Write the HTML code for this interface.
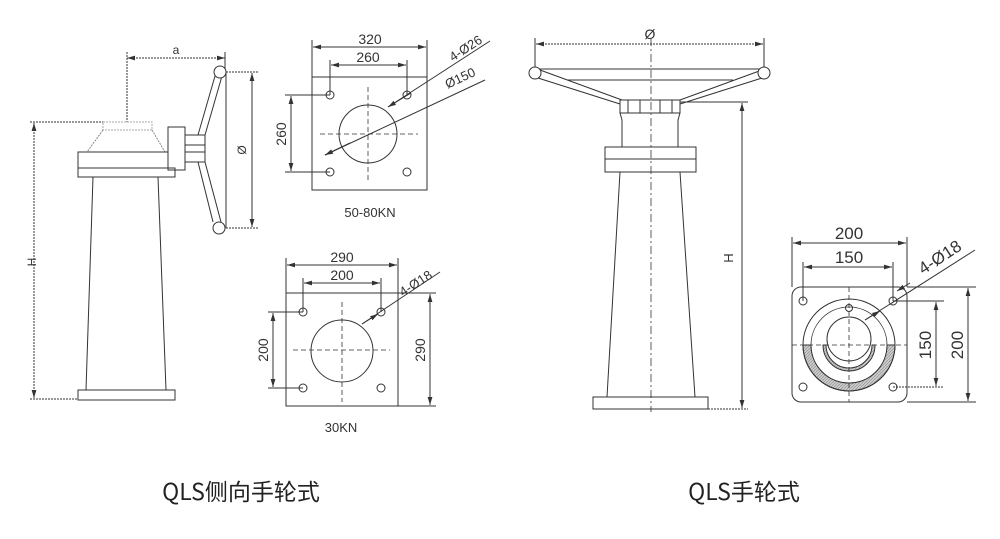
<!DOCTYPE html>
<html><head><meta charset="utf-8"><style>
html,body{margin:0;padding:0;background:#fff;}
svg{display:block;}
text{font-family:"Liberation Sans","Noto Sans CJK SC",sans-serif;fill:#333;}
.cap{font-family:"Noto Sans CJK SC","Liberation Sans",sans-serif;fill:#222;}
</style></head><body>
<svg width="1000" height="539" viewBox="0 0 1000 539" xmlns="http://www.w3.org/2000/svg">
<defs>
<marker id="a" viewBox="0 0 10 6" refX="10" refY="3" markerWidth="8" markerHeight="5" orient="auto-start-reverse"><path d="M0,0L10,3L0,6z" fill="#333"/></marker>
<pattern id="h" width="3" height="3" patternUnits="userSpaceOnUse"><rect width="3" height="3" fill="#ccc"/><path d="M0,3L3,0" stroke="#888" stroke-width="0.6"/></pattern>
</defs>
<g stroke="#333" stroke-width="1" fill="none">
<line x1="127" y1="58" x2="225" y2="58" marker-start="url(#a)" marker-end="url(#a)" stroke-dasharray="2 1"/>
<line x1="127" y1="52" x2="127" y2="122" stroke-dasharray="2 1"/>
<line x1="225" y1="52" x2="225" y2="72"/>
<line x1="34" y1="123" x2="34" y2="398" marker-start="url(#a)" marker-end="url(#a)" stroke-dasharray="2 1"/>
<line x1="30" y1="122" x2="103" y2="122" stroke-dasharray="2 1"/>
<line x1="30" y1="399" x2="78" y2="399" stroke-dasharray="2 1"/>
<rect x="103" y="122" width="49" height="8" stroke="#aaa" stroke-dasharray="2 1"/>
<path d="M103,130L87,152M152,130L165,152" stroke="#888" stroke-dasharray="2 1"/>
<rect x="78" y="152" width="90" height="16"/>
<rect x="78" y="168" width="97" height="9"/>
<rect x="168" y="127" width="17" height="43"/>
<rect x="185" y="135" width="20" height="27"/>
<line x1="185" y1="145" x2="205" y2="145"/><line x1="185" y1="152" x2="205" y2="152"/>
<path d="M93,177L86,390M158,177L166,390"/>
<rect x="78" y="390" width="97" height="10"/>
<path d="M198,135L215,76M205,135L222,76M198,162L213,222M205,162L221,222"/>
<line x1="226" y1="72" x2="226" y2="228"/>
<circle cx="220" cy="72" r="6" fill="#fff"/>
<circle cx="219" cy="228" r="6" fill="#fff"/>
<line x1="226" y1="72" x2="258" y2="72" stroke-dasharray="2 1"/>
<line x1="226" y1="228" x2="258" y2="228" stroke-dasharray="2 1"/>
<line x1="252" y1="73" x2="252" y2="227" marker-start="url(#a)" marker-end="url(#a)"/>

<rect x="312" y="77" width="115" height="113"/>
<circle cx="330" cy="95" r="4"/><circle cx="407" cy="95" r="4"/>
<circle cx="330" cy="172" r="4"/><circle cx="407" cy="172" r="4"/>
<circle cx="368" cy="134" r="29"/>
<line x1="368" y1="87" x2="368" y2="181" stroke-dasharray="5 3" stroke-width="0.8"/>
<line x1="320" y1="134" x2="418" y2="134" stroke-dasharray="5 3" stroke-width="0.8"/>
<line x1="312" y1="40" x2="312" y2="77"/><line x1="427" y1="40" x2="427" y2="77"/>
<line x1="313" y1="47" x2="426" y2="47" marker-start="url(#a)" marker-end="url(#a)"/>
<line x1="330" y1="60" x2="330" y2="95"/><line x1="407" y1="60" x2="407" y2="95"/>
<line x1="331" y1="65" x2="406" y2="65" marker-start="url(#a)" marker-end="url(#a)"/>
<line x1="285" y1="95" x2="330" y2="95"/><line x1="285" y1="172" x2="330" y2="172"/>
<line x1="291" y1="96" x2="291" y2="171" marker-start="url(#a)" marker-end="url(#a)"/>
<line x1="388" y1="107" x2="490" y2="41"/>
<line x1="411" y1="93" x2="388" y2="107" marker-end="url(#a)"/>
<line x1="325" y1="155" x2="485" y2="80"/>
<line x1="350" y1="143" x2="325" y2="155" marker-end="url(#a)"/>

<rect x="286" y="293" width="112" height="113"/>
<circle cx="303" cy="312" r="4"/><circle cx="381" cy="312" r="4"/>
<circle cx="303" cy="388" r="4"/><circle cx="381" cy="388" r="4"/>
<circle cx="342" cy="351" r="31"/>
<line x1="342" y1="302" x2="342" y2="402" stroke-dasharray="5 3" stroke-width="0.8"/>
<line x1="293" y1="350" x2="390" y2="350" stroke-dasharray="5 3" stroke-width="0.8"/>
<line x1="286" y1="258" x2="286" y2="293"/><line x1="398" y1="258" x2="398" y2="293"/>
<line x1="287" y1="265" x2="397" y2="265" marker-start="url(#a)" marker-end="url(#a)"/>
<line x1="303" y1="278" x2="303" y2="312"/><line x1="381" y1="278" x2="381" y2="312"/>
<line x1="304" y1="283" x2="380" y2="283" marker-start="url(#a)" marker-end="url(#a)"/>
<line x1="268" y1="312" x2="303" y2="312"/><line x1="268" y1="388" x2="303" y2="388"/>
<line x1="273" y1="313" x2="273" y2="387" marker-start="url(#a)" marker-end="url(#a)"/>
<line x1="398" y1="293" x2="436" y2="293"/><line x1="398" y1="406" x2="436" y2="406"/>
<line x1="430" y1="294" x2="430" y2="405" marker-start="url(#a)" marker-end="url(#a)"/>
<line x1="362" y1="324" x2="440" y2="272"/>
<line x1="362" y1="324" x2="378" y2="314" marker-end="url(#a)"/>

<line x1="651" y1="38" x2="651" y2="412" stroke-dasharray="8 3 2 3" stroke-width="0.8"/>
<line x1="535" y1="38" x2="535" y2="70"/><line x1="764" y1="38" x2="764" y2="70"/>
<line x1="536" y1="44" x2="763" y2="44" marker-start="url(#a)" marker-end="url(#a)" stroke-dasharray="2 1"/>
<line x1="540" y1="69" x2="760" y2="69"/>
<line x1="567" y1="80" x2="733" y2="80"/>
<path d="M538,78L620,104M540,70L622,100M762,70L680,100M762,78L680,104" />
<rect x="620" y="100" width="60" height="13"/>
<path d="M628,100V113M640,100V113M660,100V113M672,100V113"/>
<path d="M620,113L622,120V147H678V120L680,113" />
<circle cx="535" cy="73" r="6" fill="#fff"/>
<circle cx="764" cy="73" r="6" fill="#fff"/>
<rect x="605" y="147" width="91" height="25"/>
<line x1="605" y1="159" x2="696" y2="159"/>
<path d="M620,172L607,397M680,172L695,397"/>
<rect x="593" y="397" width="115" height="12"/>
<line x1="680" y1="102" x2="748" y2="102"/>
<line x1="708" y1="409" x2="748" y2="409" stroke-dasharray="2 1"/>
<line x1="742" y1="103" x2="742" y2="408" marker-start="url(#a)" marker-end="url(#a)"/>

<rect x="792" y="287" width="115" height="115" rx="9"/>
<path d="M803,345A46,46 0 0 0 895,345H887A38,38 0 0 1 811,345Z" fill="url(#h)"/>
<path d="M823,345A26,26 0 0 0 875,345H872A23,23 0 0 1 826,345Z" fill="url(#h)"/>
<circle cx="849" cy="345" r="46"/>
<circle cx="849" cy="345" r="38" stroke-width="0.8"/>
<circle cx="849" cy="339" r="22" fill="#fff"/>
<circle cx="803" cy="301" r="4"/><circle cx="893" cy="301" r="4"/>
<circle cx="803" cy="387" r="4"/><circle cx="893" cy="387" r="4"/>
<circle cx="849" cy="308" r="3.5"/>
<line x1="849" y1="287" x2="849" y2="402" stroke-dasharray="5 3" stroke-width="0.8"/>
<line x1="792" y1="345" x2="907" y2="345" stroke-dasharray="5 3" stroke-width="0.8"/>
<line x1="792" y1="237" x2="792" y2="287"/><line x1="907" y1="237" x2="907" y2="287"/>
<line x1="793" y1="243" x2="906" y2="243" marker-start="url(#a)" marker-end="url(#a)"/>
<line x1="803" y1="262" x2="803" y2="301"/><line x1="893" y1="262" x2="893" y2="301"/>
<line x1="804" y1="267" x2="892" y2="267" marker-start="url(#a)" marker-end="url(#a)"/>
<line x1="893" y1="301" x2="944" y2="301"/><line x1="893" y1="387" x2="944" y2="387" stroke-dasharray="2 1"/>
<line x1="936" y1="302" x2="936" y2="386" marker-start="url(#a)" marker-end="url(#a)"/>
<line x1="907" y1="287" x2="976" y2="287"/><line x1="907" y1="402" x2="976" y2="402"/>
<line x1="968" y1="288" x2="968" y2="401" marker-start="url(#a)" marker-end="url(#a)"/>
<line x1="865" y1="320" x2="975" y2="250"/>
<line x1="865" y1="320" x2="880" y2="311" marker-end="url(#a)"/>
<line x1="910" y1="283" x2="897" y2="291" marker-end="url(#a)"/>
</g>

<g font-size="14">
<text x="176" y="54" text-anchor="middle" font-size="12">a</text>
<text x="36" y="262" text-anchor="middle" transform="rotate(-90 36 262)" font-size="12">H</text>
<text x="246" y="150" text-anchor="middle" transform="rotate(-90 246 150)" font-size="12">Ø</text>
<text x="370" y="44" text-anchor="middle">320</text>
<text x="368" y="62" text-anchor="middle">260</text>
<text x="286" y="134" text-anchor="middle" transform="rotate(-90 286 134)">260</text>
<text x="468" y="52" text-anchor="middle" transform="rotate(-33 468 52)" font-size="13">4-Ø26</text>
<text x="462" y="82" text-anchor="middle" transform="rotate(-25 462 82)" font-size="13">Ø150</text>
<text x="370" y="217" text-anchor="middle" font-size="13">50-80KN</text>
<text x="342" y="262" text-anchor="middle">290</text>
<text x="342" y="280" text-anchor="middle">200</text>
<text x="268" y="350" text-anchor="middle" transform="rotate(-90 268 350)">200</text>
<text x="425" y="350" text-anchor="middle" transform="rotate(-90 425 350)">290</text>
<text x="418" y="287" text-anchor="middle" transform="rotate(-33 418 287)" font-size="13">4-Ø18</text>
<text x="341" y="432" text-anchor="middle" font-size="13">30KN</text>
<text x="650" y="39" text-anchor="middle" font-size="14">Ø</text>
<text x="733" y="258" text-anchor="middle" transform="rotate(-90 733 258)" font-size="13">H</text>
<text x="849" y="239" text-anchor="middle" font-size="17">200</text>
<text x="849" y="263" text-anchor="middle" font-size="17">150</text>
<text x="931" y="345" text-anchor="middle" transform="rotate(-90 931 345)" font-size="17">150</text>
<text x="963" y="345" text-anchor="middle" transform="rotate(-90 963 345)" font-size="17">200</text>
<text x="943" y="262" text-anchor="middle" transform="rotate(-33 943 262)" font-size="17">4-Ø18</text>
</g>
<g font-size="23">
<text class="cap" x="241" y="500" text-anchor="middle">QLS侧向手轮式</text>
<text class="cap" x="744" y="500" text-anchor="middle">QLS手轮式</text>
</g>
</svg>
</body></html>
